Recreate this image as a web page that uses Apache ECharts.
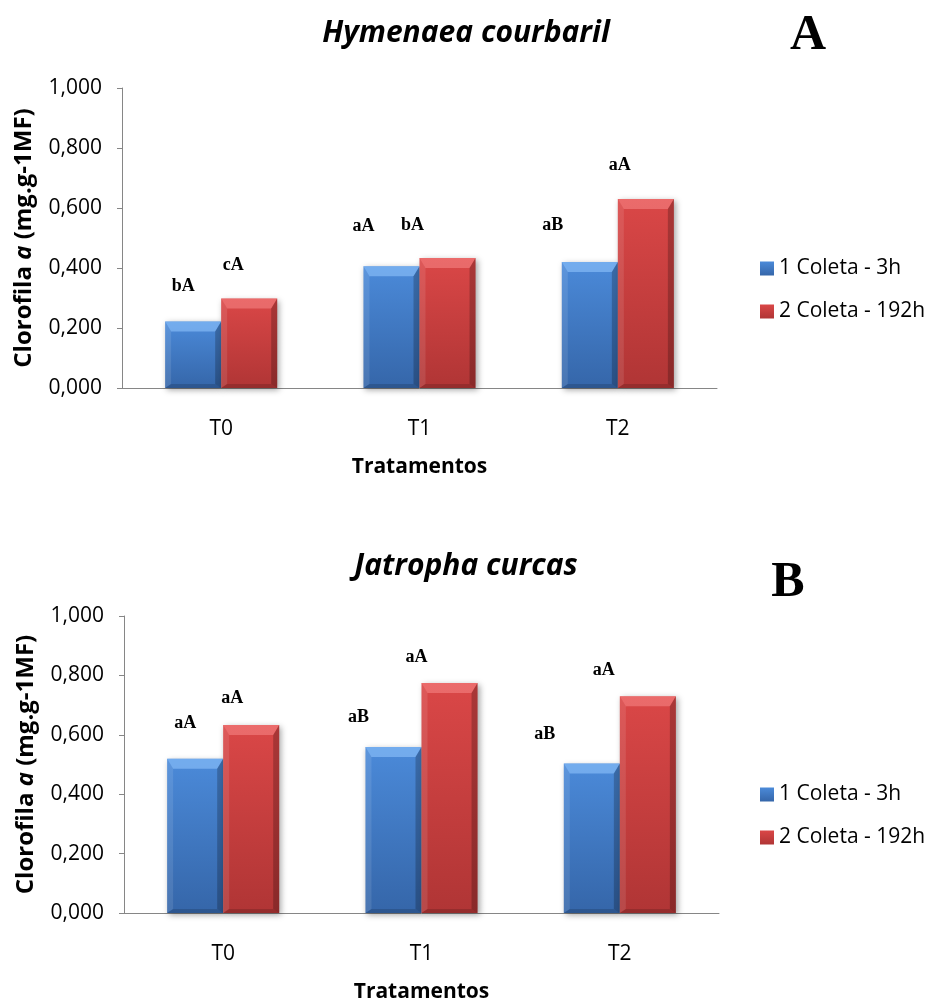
<!DOCTYPE html>
<html>
<head>
<meta charset="utf-8">
<title>Clorofila a</title>
<script src="https://cdn.jsdelivr.net/npm/echarts@6/dist/echarts.min.js"></script>
<style>
  html, body { margin: 0; padding: 0; background: #fff; }
  #chart { width: 935px; height: 1004px; }
</style>
</head>
<body>
<div id="chart"></div>
<script>
// ---- data ----
const categories = ['T0', 'T1', 'T2'];
const seriesNames = ['1 Coleta - 3h', '2 Coleta - 192h'];
const yTickLabels = ['0,000', '0,200', '0,400', '0,600', '0,800', '1,000'];

const hymenaeaColeta1 = [0.222, 0.406, 0.420];
const hymenaeaColeta2 = [0.298, 0.433, 0.630];
const hymenaeaLetters1 = ['bA', 'aA', 'aB'];
const hymenaeaLetters2 = ['cA', 'bA', 'aA'];

const jatrophaColeta1 = [0.519, 0.559, 0.503];
const jatrophaColeta2 = [0.633, 0.774, 0.730];
const jatrophaLetters1 = ['aA', 'aB', 'aB'];
const jatrophaLetters2 = ['aA', 'aA', 'aA'];

// ---- layout ----
const GAP = 0.435; // barCategoryGap as a fraction of the band
const PANELS = [
  { title: 'Hymenaea courbaril', tag: 'A', v1: hymenaeaColeta1, v2: hymenaeaColeta2,
    l1: hymenaeaLetters1, l2: hymenaeaLetters2,
    grid: { left: 122, top: 88, width: 595, height: 300 },
    titleY: 33, tagX: 808, tagY: 36, legendTop: 253,
    shift: [[[-10, -35], [-28, -40], [-37, -37]], [[-16, -33], [-35, -33], [-26, -34]]] },
  { title: 'Jatropha curcas', tag: 'B', v1: jatrophaColeta1, v2: jatrophaColeta2,
    l1: jatrophaLetters1, l2: jatrophaLetters2,
    grid: { left: 124, top: 616, width: 595, height: 301 },
    titleY: 566, tagX: 788, tagY: 583, legendTop: 779,
    shift: [[[-10, -36], [-35, -30], [-47, -29]], [[-19, -27], [-33, -26], [-44, -26]]] }
];

const FONT = '"Open Sans", "Noto Sans", sans-serif';
const SERIF = '"Liberation Serif", "DejaVu Serif", serif';
const AXIS_COLOR = '#868686';

const BODY = [
  new echarts.graphic.LinearGradient(0, 0, 0, 1, [
    { offset: 0, color: '#4b8ad9' }, { offset: 1, color: '#3566a9' }]),
  new echarts.graphic.LinearGradient(0, 0, 0, 1, [
    { offset: 0, color: '#da4747' }, { offset: 1, color: '#b03535' }])
];
const BEVEL_TOP = ['rgba(150,200,255,0.55)', 'rgba(255,150,150,0.45)'];

// bevel edges drawn over each bar, positioned through the axis scales
function bevelRenderer(side) {
  return function (params, api) {
    const i = api.value(0), v = api.value(1);
    const base = api.coord([i, 0]);
    const top = api.coord([i, v]);
    const band = api.size([1, 0])[0];
    const w = band * (1 - GAP) / 2;
    const x0 = side === 0 ? base[0] - w : base[0];
    const x1 = x0 + w;
    const y0 = top[1], yb = base[1];
    const t = Math.min(10, (yb - y0) / 2), s = 6;
    return {
      type: 'group',
      children: [
        { type: 'polygon', shape: { points: [[x0, y0], [x1, y0], [x1 - s, y0 + t], [x0 + s, y0 + t]] },
          style: { fill: BEVEL_TOP[side] } },
        { type: 'polygon', shape: { points: [[x0, y0], [x0 + s, y0 + t], [x0 + s, yb - 4], [x0, yb]] },
          style: { fill: 'rgba(255,255,255,0.10)' } },
        { type: 'polygon', shape: { points: [[x1, y0], [x1, yb], [x1 - s, yb - 4], [x1 - s, y0 + t]] },
          style: { fill: 'rgba(0,0,0,0.22)' } },
        { type: 'polygon', shape: { points: [[x0, yb], [x1, yb], [x1 - s, yb - 4], [x0 + s, yb - 4]] },
          style: { fill: 'rgba(0,0,0,0.15)' } }
      ]
    };
  };
}

const grids = [], xAxes = [], yAxes = [], series = [], legends = [], graphics = [];

PANELS.forEach(function (p, k) {
  grids.push(Object.assign({ containLabel: false }, p.grid));

  xAxes.push({
    type: 'category', gridIndex: k, data: categories,
    axisLine: { lineStyle: { color: AXIS_COLOR, width: 1 } },
    axisTick: { alignWithLabel: true, length: 5, lineStyle: { color: AXIS_COLOR } },
    axisLabel: { color: '#000', fontFamily: FONT, fontSize: 21, margin: 31 },
    name: 'Tratamentos', nameLocation: 'middle', nameGap: 69,
    nameTextStyle: { color: '#000', fontFamily: FONT, fontSize: 21, fontWeight: 'bold' }
  });

  yAxes.push({
    type: 'value', gridIndex: k, min: 0, max: 1, interval: 0.2,
    splitLine: { show: false },
    axisLine: { show: true, lineStyle: { color: AXIS_COLOR, width: 1 } },
    axisTick: { show: true, length: 5, inside: false, lineStyle: { color: AXIS_COLOR } },
    axisLabel: {
      color: '#000', fontFamily: FONT, fontSize: 21, margin: 20,
      formatter: function (val) { return yTickLabels[Math.round(val / 0.2)]; }
    },
    name: '{n|Clorofila }{i|a}{n| (mg.g-1MF)}',
    nameLocation: 'middle', nameGap: 86, nameRotate: 90,
    nameTextStyle: {
      rich: {
        n: { color: '#000', fontFamily: FONT, fontSize: 24, fontWeight: 'bold' },
        i: { color: '#000', fontFamily: FONT, fontSize: 24, fontWeight: 'bold', fontStyle: 'italic' }
      }
    }
  });

  [p.v1, p.v2].forEach(function (vals, side) {
    const letters = side === 0 ? p.l1 : p.l2;
    series.push({
      type: 'bar', name: seriesNames[side], xAxisIndex: k, yAxisIndex: k,
      barGap: '0%', barCategoryGap: (GAP * 100) + '%',
      itemStyle: {
        color: BODY[side],
        shadowColor: 'rgba(0,0,0,0.35)', shadowBlur: 6, shadowOffsetX: 2, shadowOffsetY: 2
      },
      label: {
        show: true, position: 'top', distance: 0, align: 'center', verticalAlign: 'middle',
        fontFamily: SERIF, fontWeight: 'bold', fontSize: 18, color: '#000',
        formatter: function (prm) { return letters[prm.dataIndex]; }
      },
      data: vals.map(function (v, i) {
        return { value: v, label: { offset: p.shift[side][i] } };
      }),
      z: 2
    });
    series.push({
      type: 'custom', name: 'bevel-' + k + '-' + side, xAxisIndex: k, yAxisIndex: k,
      renderItem: bevelRenderer(side),
      encode: { x: 0, y: 1 },
      data: vals.map(function (v, i) { return [i, v]; }),
      silent: true, z: 3
    });
  });

  legends.push({
    data: seriesNames, orient: 'vertical', left: 755, top: p.legendTop,
    itemWidth: 14, itemHeight: 14, itemGap: 22, icon: 'rect',
    textStyle: { color: '#000', fontFamily: FONT, fontSize: 21 }
  });

  graphics.push({
    type: 'text', style: {
      text: p.title, x: 466, y: p.titleY, align: 'center', verticalAlign: 'middle',
      font: 'italic bold 30px ' + FONT, fill: '#000'
    }
  });
  graphics.push({
    type: 'text', style: {
      text: p.tag, x: p.tagX, y: p.tagY, align: 'center', verticalAlign: 'middle',
      font: 'bold 50px ' + SERIF, fill: '#000'
    }
  });
});

const chart = echarts.init(document.getElementById('chart'), null, { renderer: 'canvas' });
chart.setOption({
  backgroundColor: '#ffffff',
  animation: false,
  grid: grids,
  xAxis: xAxes,
  yAxis: yAxes,
  legend: legends,
  series: series,
  graphic: graphics
});
</script>
</body>
</html>
